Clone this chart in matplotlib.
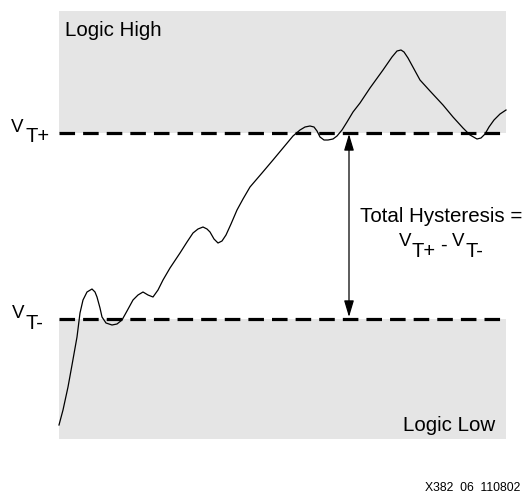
import matplotlib
matplotlib.use("Agg")
import matplotlib.pyplot as plt
from matplotlib.patches import Rectangle

plt.rcParams['font.family'] = ['Liberation Sans', 'DejaVu Sans']
plt.rcParams['lines.scale_dashes'] = False

# Waveform (x, y in drawing units; y grows downward)
wave_x = [59, 63, 68, 72, 77, 80, 83, 87, 92, 95, 97, 100, 102, 106, 112, 117, 122, 127,
          133, 138, 143, 148, 153, 158, 163, 170, 180, 187, 193, 198, 203, 207, 210, 214,
          218, 222, 226, 231, 237, 243, 250, 262, 273, 283, 293, 300, 305, 310, 314, 317,
          320, 324, 328, 333, 337, 342, 347, 353, 360, 370, 383, 392, 397, 401, 404, 408,
          414, 420, 430, 443, 453, 463, 470, 477, 481, 485, 489, 494, 500, 506]
wave_y = [425, 410, 387, 365, 337, 313, 300, 292, 289, 292, 297, 308, 317, 323, 325, 324, 320, 311,
          300, 295, 292, 295, 297, 290, 280, 268, 253, 242, 233, 229, 227, 229, 232, 239,
          243, 241, 235, 224, 210, 199, 187, 173, 160, 148, 136, 130, 127, 126, 127, 131,
          137, 140, 140, 139, 136, 130, 122, 112, 103, 88, 70, 57, 51, 50, 52, 58,
          69, 80, 91, 105, 117, 128, 135, 139, 138, 134, 127, 120, 114, 110]

# Threshold levels and region bounds
vt_plus = 132.5
vt_minus = 319
high_top = 11
low_bottom = 439
x_left, x_right = 59, 506

fig = plt.figure(figsize=(5.26, 4.93), dpi=100)
ax = fig.add_axes([0, 0, 1, 1])
ax.set_xlim(0, 526)
ax.set_ylim(493, 0)
ax.axis('off')

grey = '#e5e5e5'
ax.add_patch(Rectangle((x_left, high_top), x_right - x_left, vt_plus - high_top,
                       facecolor=grey, edgecolor='none', zorder=0))
ax.add_patch(Rectangle((x_left, vt_minus), x_right - x_left, low_bottom - vt_minus,
                       facecolor=grey, edgecolor='none', zorder=0))

for lvl in (vt_plus, vt_minus):
    ax.plot([x_left, x_right], [lvl, lvl], color='black', lw=2.3,
            linestyle=(0, (11.2, 5.8)), dash_capstyle='butt', zorder=2)

ax.plot(wave_x, wave_y, color='black', lw=0.9, zorder=3, solid_joinstyle='round')

ax.annotate('', xy=(349, 134), xytext=(349, 317),
            arrowprops=dict(arrowstyle='<|-|>,head_length=1.0,head_width=0.3',
                            color='black', lw=0.9, shrinkA=0, shrinkB=0,
                            mutation_scale=10), zorder=4)

fs = 14.8
vfs = 13.5
tfs = 14.5
ax.text(65, 36, 'Logic High', fontsize=fs, va='baseline', ha='left')
ax.text(403, 431, 'Logic Low', fontsize=fs, va='baseline', ha='left')

ax.text(11, 132, 'V', fontsize=vfs, va='baseline', ha='left')
ax.text(25, 142, 'T+', fontsize=tfs, va='baseline', ha='left')
ax.text(12, 318, 'V', fontsize=vfs, va='baseline', ha='left')
ax.text(25, 329, 'T-', fontsize=tfs, va='baseline', ha='left')

ax.text(360, 222, 'Total Hysteresis =', fontsize=fs, va='baseline', ha='left')
ax.text(399, 246, 'V', fontsize=vfs, va='baseline', ha='left')
ax.text(412, 257, 'T+', fontsize=tfs, va='baseline', ha='left')
ax.text(440, 251, '-', fontsize=tfs, va='baseline', ha='left')
ax.text(452, 246, 'V', fontsize=vfs, va='baseline', ha='left')
ax.text(465, 257, 'T-', fontsize=tfs, va='baseline', ha='left')

ax.text(425, 491, 'X382  06  110802', fontsize=8.8, va='baseline', ha='left')

fig.savefig('out.png', dpi=100)
